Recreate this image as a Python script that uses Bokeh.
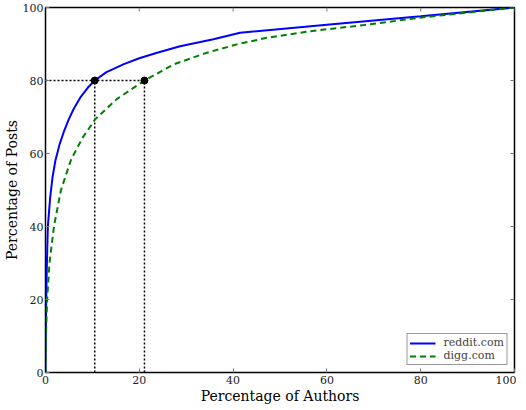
from bokeh.plotting import figure
from bokeh.models import Range1d, Legend, LegendItem, FixedTicker
from bokeh.embed import file_html
from bokeh.resources import INLINE

# data
reddit_x = [0, 0.05, 0.15, 0.3, 0.5, 1.0, 1.5, 2.1, 3.0, 4.0, 5.0, 6.0, 7.4, 9.0, 10.5, 13, 16.7, 20, 23.8, 28.7, 35.8, 41.5, 60, 80, 100]
reddit_y = [0, 10, 20, 30, 40, 48, 53.5, 58, 62.5, 66.3, 69.5, 72.2, 75.3, 78, 80, 82.3, 84.5, 86.1, 87.6, 89.4, 91.3, 93.1, 95.3, 97.6, 100]
digg_x = [0, 0.1, 0.35, 0.85, 1.8, 3.3, 5.5, 8.0, 10.6, 15.2, 21.1, 27.3, 34.4, 40.8, 47.2, 56.4, 68, 79.8, 90, 100]
digg_y = [0, 10, 20, 30, 40, 50, 58.5, 64.5, 69.4, 74.9, 80, 84.4, 87.6, 89.9, 91.7, 93.5, 95.2, 97.2, 98.6, 100]
marker_x = [10.5, 21.1]
marker_y = [80, 80]
ticks = [0, 20, 40, 60, 80, 100]

FONT = "DejaVu Serif"
TICK_COLOR = "#777777"

p = figure(width=516, height=406, output_backend="svg", toolbar_location=None,
           x_range=Range1d(0, 100), y_range=Range1d(0, 100),
           min_border_left=0, min_border_right=2, min_border_top=7, min_border_bottom=0)
p.grid.visible = False
p.outline_line_color = "black"
p.outline_line_width = 1.5
p.background_fill_color = "white"
p.border_fill_color = "white"

for ax in (p.xaxis[0], p.yaxis[0]):
    ax.ticker = FixedTicker(ticks=ticks)
    ax.major_tick_in = 4
    ax.major_tick_out = 0
    ax.minor_tick_line_color = None
    ax.major_tick_line_color = TICK_COLOR
    ax.axis_line_color = "black"
    ax.major_label_text_font = FONT
    ax.major_label_text_font_size = "11px"
    ax.major_label_text_color = "#222222"
    ax.axis_label_text_font = FONT
    ax.axis_label_text_font_size = "14px"
    ax.axis_label_text_font_style = "normal"
    ax.axis_label_text_color = "black"
p.xaxis.axis_label = "Percentage of Authors"
p.yaxis.axis_label = "Percentage of Posts"
p.xaxis.major_label_standoff = 3
p.xaxis.axis_label_standoff = 1
p.yaxis.major_label_standoff = 2
p.yaxis.axis_label_standoff = 0

# inward ticks on the top and right edges
n = len(ticks)
p.segment(x0=ticks, y0=[100] * n, x1=ticks, y1=[98.9] * n, line_color=TICK_COLOR, line_width=1)
p.segment(x0=[100] * n, y0=ticks, x1=[99.15] * n, y1=ticks, line_color=TICK_COLOR, line_width=1)

# dotted guide lines
p.line([0, marker_x[1]], [marker_y[0], marker_y[1]], line_color="black", line_dash="2 2", line_width=1.5)
for mx, my in zip(marker_x, marker_y):
    p.line([mx, mx], [0, my], line_color="black", line_dash="2 2", line_width=1.5)

r1 = p.line(reddit_x, reddit_y, line_color="#0000ff", line_width=2)
r2 = p.line(digg_x, digg_y, line_color="#008000", line_width=2, line_dash="6 4")
p.scatter(marker_x, marker_y, size=7, color="black")

legend = Legend(items=[LegendItem(label="reddit.com", renderers=[r1]),
                       LegendItem(label="digg.com", renderers=[r2])],
                location="bottom_right")
legend.label_text_font = FONT
legend.label_text_font_size = "11px"
legend.label_height = 10
legend.glyph_height = 10
legend.glyph_width = 26
legend.spacing = 0
legend.padding = 2
legend.margin = 7
legend.border_line_color = "#333333"
legend.border_line_width = 1
legend.label_standoff = 8
legend.background_fill_alpha = 1
p.add_layout(legend)

open("out.html", "w").write(file_html(p, INLINE))
